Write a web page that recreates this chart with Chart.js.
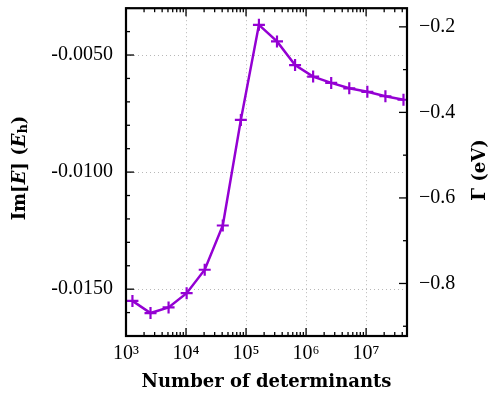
<!DOCTYPE html>
<html lang="en">
<head>
<meta charset="UTF-8" />
<title>Im[E] vs number of determinants</title>
<script src="https://cdn.jsdelivr.net/npm/chart.js"></script>
<style>
  html, body { margin: 0; padding: 0; background: #fff; }
  #wrap { width: 492px; height: 395px; }
</style>
</head>
<body>
<div id="wrap"><canvas id="chart"></canvas></div>
<script>
  // number of determinants (doubling each step)
  const determinants = [1280, 2560, 5120, 10240, 20480, 40960, 81920, 163840,
    327680, 655360, 1310720, 2621440, 5242880, 10485760, 20971520, 41943040];
  // Im[E] in hartree
  const imEnergy = [-0.01550, -0.01602, -0.01578, -0.01517, -0.01417, -0.01228,
    -0.00777, -0.00371, -0.00442, -0.00543, -0.00592, -0.00619, -0.00642,
    -0.00657, -0.00676, -0.00691];

  const xTicks = [1e3, 1e4, 1e5, 1e6, 1e7];
  const xTickLabels = ["10³", "10⁴", "10⁵", "10⁶", "10⁷"];
  const leftTicks = [-0.005, -0.010, -0.015];
  const leftTickLabels = ["-0.0050", "-0.0100", "-0.0150"];
  const rightTicks = [-0.2, -0.4, -0.6, -0.8];
  const rightTickLabels = ["−0.2", "−0.4", "−0.6", "−0.8"];

  const purple = "#9400d3";
  const tickFont = { family: "'Liberation Serif', serif", size: 20 };
  const titleFamily = "'DejaVu Serif', serif";

  function seg(ctx, x1, y1, x2, y2) {
    ctx.beginPath();
    ctx.moveTo(x1, y1);
    ctx.lineTo(x2, y2);
    ctx.stroke();
  }

  // draws a text made of several font runs, centred on (cx, cy)
  function drawRich(ctx, parts, cx, cy, angle) {
    ctx.save();
    ctx.translate(cx, cy);
    ctx.rotate(angle);
    ctx.textBaseline = "middle";
    ctx.textAlign = "left";
    ctx.fillStyle = "#000";
    let total = 0;
    for (const p of parts) {
      ctx.font = p.font;
      total += ctx.measureText(p.text).width;
    }
    let x = -total / 2;
    for (const p of parts) {
      ctx.font = p.font;
      ctx.fillText(p.text, x, p.dy || 0);
      x += ctx.measureText(p.text).width;
    }
    ctx.restore();
  }

  const framePlugin = {
    id: "frame",
    afterDraw(chart) {
      const { ctx, chartArea: a, scales } = chart;
      ctx.save();
      ctx.strokeStyle = "#000";
      ctx.lineWidth = 1.3;

      // log x ticks, bottom and top, pointing inward
      const x = scales.x;
      const e0 = Math.floor(Math.log10(x.min));
      const e1 = Math.ceil(Math.log10(x.max));
      for (let e = e0; e <= e1; e++) {
        for (let m = 1; m <= 9; m++) {
          const v = m * Math.pow(10, e);
          if (v < x.min * 0.999 || v > x.max * 1.001) continue;
          const px = x.getPixelForValue(v);
          const len = m === 1 ? 8 : 4;
          seg(ctx, px, a.bottom, px, a.bottom - len);
          seg(ctx, px, a.top, px, a.top + len);
        }
      }

      // left axis, step 0.001
      const yl = scales.y;
      for (let k = Math.ceil(yl.min / 0.001 - 1e-6); k * 0.001 <= yl.max + 1e-9; k++) {
        const py = yl.getPixelForValue(k * 0.001);
        const len = k % 5 === 0 ? 8 : 4;
        seg(ctx, a.left, py, a.left + len, py);
      }

      // right axis, step 0.1
      const yr = scales.y2;
      for (let k = Math.ceil(yr.min / 0.1 - 1e-6); k * 0.1 <= yr.max + 1e-9; k++) {
        const py = yr.getPixelForValue(k * 0.1);
        const len = k % 2 === 0 ? 8 : 4;
        seg(ctx, a.right, py, a.right - len, py);
      }

      // frame
      ctx.lineWidth = 2.2;
      ctx.strokeRect(a.left, a.top, a.right - a.left, a.bottom - a.top);
      ctx.restore();

      // axis titles
      const b = "bold 18px " + titleFamily;
      const bi = "italic bold 18px " + titleFamily;
      const sub = "bold 13px " + titleFamily;
      drawRich(ctx, [
        { text: "Im[", font: b },
        { text: "E", font: bi },
        { text: "] (", font: b },
        { text: "E", font: bi },
        { text: "h", font: sub, dy: 4 },
        { text: ")", font: b }
      ], 20, 168, -Math.PI / 2);
      drawRich(ctx, [
        { text: "Γ (eV)", font: b }
      ], 480, 170, -Math.PI / 2);
    }
  };

  // drop the half-label padding Chart.js adds at the ends of vertical axes
  function fixVertical(width) {
    return (s) => {
      s.width = width;
      s.paddingTop = 0;
      s.paddingBottom = 0;
    };
  }

  new Chart(document.getElementById("chart"), {
    type: "line",
    data: {
      labels: determinants,
      datasets: [{
        data: determinants.map((d, i) => ({ x: d, y: imEnergy[i] })),
        borderColor: purple,
        backgroundColor: purple,
        borderWidth: 2.5,
        pointStyle: "cross",
        pointRadius: 6,
        pointBorderWidth: 2.2,
        pointBorderColor: purple,
        tension: 0,
        yAxisID: "y"
      }]
    },
    options: {
      responsive: true,
      maintainAspectRatio: false,
      animation: false,
      layout: { padding: { top: 7, left: 0, right: 0, bottom: 0 } },
      plugins: { legend: { display: false }, tooltip: { enabled: false } },
      scales: {
        x: {
          type: "logarithmic",
          min: 1000,
          max: 4.8e7,
          afterBuildTicks: (s) => { s.ticks = xTicks.map((v) => ({ value: v })); },
          afterFit: (s) => { s.height = 59; s.paddingLeft = 0; s.paddingRight = 0; },
          ticks: {
            font: tickFont,
            color: "#000",
            padding: 6,
            maxRotation: 0,
            autoSkip: false,
            callback: (v, i) => xTickLabels[i]
          },
          grid: { color: "#b8b8b8", lineWidth: 1, drawTicks: false },
          border: { display: false, dash: [1, 3] },
          title: {
            display: true,
            text: "Number of determinants",
            font: { family: titleFamily, size: 18, weight: "bold" },
            color: "#000",
            padding: { top: 0, bottom: 2 }
          }
        },
        y: {
          position: "left",
          min: -0.0170,
          max: -0.0030,
          afterBuildTicks: (s) => { s.ticks = leftTicks.map((v) => ({ value: v })); },
          afterFit: fixVertical(126),
          ticks: {
            font: tickFont,
            color: "#000",
            padding: 13,
            callback: (v, i) => leftTickLabels[i]
          },
          grid: { color: "#b8b8b8", lineWidth: 1, drawTicks: false },
          border: { display: false, dash: [1, 3] }
        },
        y2: {
          position: "right",
          min: -0.9228,
          max: -0.1564,
          afterBuildTicks: (s) => { s.ticks = rightTicks.map((v) => ({ value: v })); },
          afterFit: fixVertical(85),
          ticks: {
            font: tickFont,
            color: "#000",
            padding: 12,
            callback: (v, i) => rightTickLabels[i]
          },
          grid: { drawOnChartArea: false, drawTicks: false },
          border: { display: false }
        }
      }
    },
    plugins: [framePlugin]
  });
</script>
</body>
</html>
